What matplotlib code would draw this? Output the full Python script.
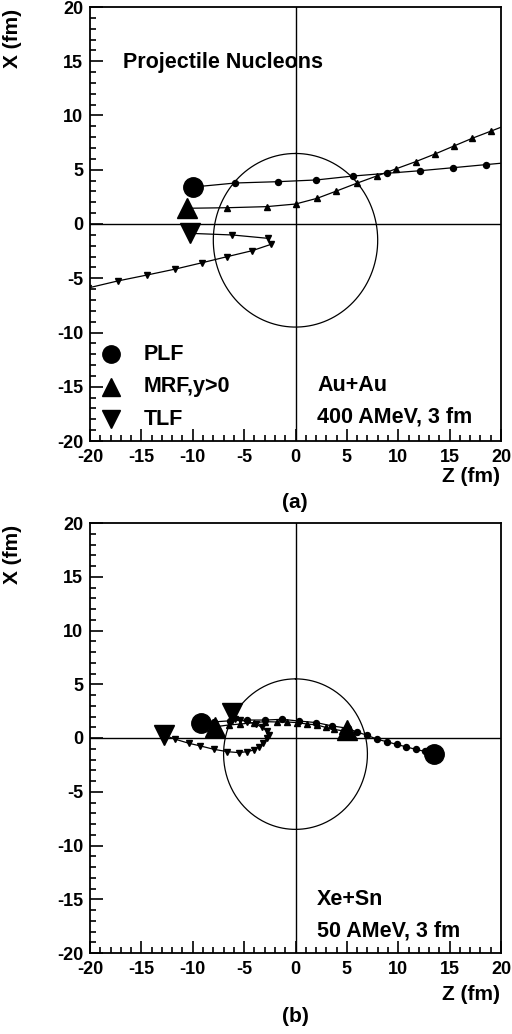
import numpy as np
import matplotlib
matplotlib.use("Agg")
import matplotlib.pyplot as plt
from matplotlib.ticker import MultipleLocator, FixedLocator, FixedFormatter

plt.rcParams['font.family'] = ['Liberation Sans', 'DejaVu Sans']
plt.rcParams['font.weight'] = 'bold'
plt.rcParams['axes.unicode_minus'] = False

# ---------------- data: panel (a) Au+Au 400 AMeV ----------------
a_plf_z = [-9.93, -5.84, -1.72, 2.04, 5.58, 8.86, 12.11, 15.35, 18.5, 21.7]
a_plf_x = [3.41, 3.78, 3.90, 4.06, 4.42, 4.67, 4.91, 5.19, 5.47, 5.75]
a_mrf_z = [-10.55, -6.65, -2.82, 0.0, 2.11, 3.99, 5.94, 7.89, 9.74, 11.68, 13.57, 15.42, 17.2, 19.05, 20.9]
a_mrf_x = [1.45, 1.50, 1.60, 1.84, 2.37, 3.04, 3.75, 4.42, 5.07, 5.74, 6.45, 7.19, 7.9, 8.57, 9.25]
a_tlf_z = [-10.29, -6.17, -2.69, -2.37, -4.22, -6.65, -9.09, -11.68, -14.44, -17.3, -20.2]
a_tlf_x = [-0.86, -1.01, -1.32, -1.87, -2.46, -3.01, -3.57, -4.15, -4.70, -5.25, -5.9]
a_circle_center = -1.5
a_circle_radius = 8.0

# ---------------- data: panel (b) Xe+Sn 50 AMeV ----------------
b_plf_z = [-9.18, -7.9, -6.4, -4.71, -2.92, -1.30, 0.32, 2.04, 3.57, 5.13, 5.94, 6.91, 7.95,
           8.86, 9.83, 10.71, 11.68, 12.6, 13.47]
b_plf_x = [1.36, 1.50, 1.60, 1.67, 1.67, 1.74, 1.58, 1.43, 1.12, 0.90, 0.56, 0.28, -0.12,
           -0.34, -0.59, -0.81, -1.05, -1.25, -1.49]
b_mrf_z = [-7.79, -6.49, -5.36, -4.06, -2.92, -1.79, -0.81, 0.16, 1.14, 2.11, 2.92, 3.73, 4.54, 5.03]
b_mrf_x = [1.05, 1.21, 1.30, 1.43, 1.52, 1.49, 1.49, 1.43, 1.30, 1.21, 0.99, 0.80, 0.68, 0.74]
b_tlf_z = [-12.82, -11.68, -10.38, -9.25, -7.95, -6.65, -5.52, -4.71, -4.06, -3.57, -3.15, -2.76,
           -2.60, -2.76, -3.25, -3.89, -4.71, -5.36, -5.84, -6.17]
b_tlf_x = [0.28, -0.12, -0.49, -0.74, -1.05, -1.27, -1.36, -1.27, -1.12, -0.81, -0.43, -0.03,
           0.28, 0.65, 0.99, 1.30, 1.52, 1.67, 1.74, 2.36]
b_circle_center = -1.5
b_circle_radius = 7.0

tick_values = [-20, -15, -10, -5, 0, 5, 10, 15, 20]
tick_labels = ['-20', '-15', '-10', '-5', '0', '5', '10', '15', '20']
legend_labels = ['PLF', 'MRF,y>0', 'TLF']

W, H = 512, 1034
fig = plt.figure(figsize=(W / 100, H / 100), dpi=100)

def px_axes(x0, y0, x1, y1):
    return fig.add_axes([x0 / W, 1 - y1 / H, (x1 - x0) / W, (y1 - y0) / H])

ax_a = px_axes(90, 7, 501, 441)
ax_b = px_axes(90, 523, 501, 953)

def style(ax):
    ax.set_xlim(-20, 20)
    ax.set_ylim(-20, 20)
    for axis in (ax.xaxis, ax.yaxis):
        axis.set_major_locator(FixedLocator(tick_values))
        axis.set_major_formatter(FixedFormatter(tick_labels))
        axis.set_minor_locator(MultipleLocator(1))
    ax.tick_params(which='both', direction='in', top=False, right=False, width=1.2)
    ax.tick_params(which='major', length=9, pad=5, labelsize=13)
    ax.tick_params(axis='x', which='major', pad=6)
    ax.tick_params(which='minor', length=4.5)
    for s in ax.spines.values():
        s.set_linewidth(1.3)
    ax.axhline(0, color='black', lw=1.0, zorder=1)
    ax.axvline(0, color='black', lw=1.0, zorder=1)

def circle(ax, c, r):
    t = np.linspace(0, 2 * np.pi, 400)
    ax.plot(r * np.sin(t), c + r * np.cos(t), color='black', lw=0.9, zorder=2)

def track(ax, z, x, marker, big_ms, small_ms, big_idx):
    ax.plot(z, x, color='black', lw=0.9, marker=marker, ms=small_ms, zorder=3)
    for i in big_idx:
        ax.plot([z[i]], [x[i]], marker=marker, color='black', ms=big_ms, ls='none', zorder=4)

# panel (a)
style(ax_a)
circle(ax_a, a_circle_center, a_circle_radius)
track(ax_a, a_plf_z, a_plf_x, 'o', 14, 4.3, [0])
track(ax_a, a_mrf_z, a_mrf_x, '^', 14, 4, [0])
track(ax_a, a_tlf_z, a_tlf_x, 'v', 14, 4, [0])
ax_a.text(-16.8, 14.9, 'Projectile Nucleons', fontsize=15.5, fontweight='bold', va='center', ha='left')
for yv, mk, lab in zip([-12, -15, -18], ['o', '^', 'v'], legend_labels):
    ax_a.plot([-18], [yv], marker=mk, color='black', ms=12.5, ls='none')
    ax_a.text(-14.8, yv, lab, fontsize=15.5, fontweight='bold', va='center', ha='left')
ax_a.text(2.1, -14.9, 'Au+Au', fontsize=15.5, fontweight='bold', va='center', ha='left')
ax_a.text(2.1, -17.8, '400 AMeV, 3 fm', fontsize=15.5, fontweight='bold', va='center', ha='left')

# panel (b)
style(ax_b)
circle(ax_b, b_circle_center, b_circle_radius)
track(ax_b, b_plf_z, b_plf_x, 'o', 14, 4.3, [0, -1])
track(ax_b, b_mrf_z, b_mrf_x, '^', 14, 4, [0, -1])
track(ax_b, b_tlf_z, b_tlf_x, 'v', 14, 4, [0, -1])
ax_b.text(2.1, -15.0, 'Xe+Sn', fontsize=15.5, fontweight='bold', va='center', ha='left')
ax_b.text(2.1, -18.0, '50 AMeV, 3 fm', fontsize=15.5, fontweight='bold', va='center', ha='left')

# axis titles and panel labels
for ytop, ylab_z, ylab_p, lab in [(7, 477, 502, '(a)'), (523, 995, 1017, '(b)')]:
    fig.text(13 / W, 1 - (ytop + 2) / H, 'X (fm)', rotation=90, ha='center', va='top',
             fontsize=15, fontweight='bold')
    fig.text(500 / W, 1 - ylab_z / H, 'Z (fm)', ha='right', va='center', fontsize=15, fontweight='bold')
    fig.text(295 / W, 1 - ylab_p / H, lab, ha='center', va='center', fontsize=15, fontweight='bold')

fig.canvas.draw()
for ax in (ax_a, ax_b):
    for lab in ax.get_xticklabels() + ax.get_yticklabels():
        lab.set_fontweight('bold')

fig.savefig('out.png', dpi=100)
